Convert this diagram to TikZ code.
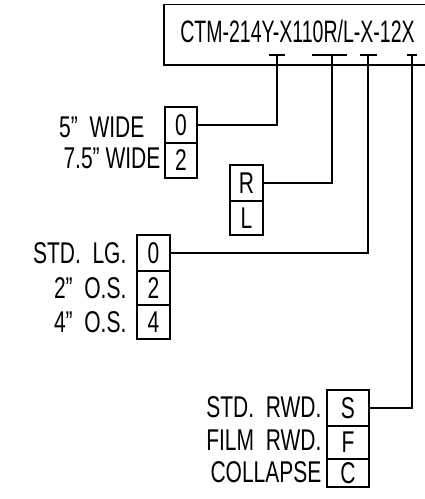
\documentclass[tikz,border=0pt]{standalone}
\usepackage{fontspec}
\setmainfont[FakeStretch=0.70]{Liberation Sans}
\newfontfamily\hdrfont[FakeStretch=0.63]{Liberation Sans}
\begin{document}
\begin{tikzpicture}[x=1pt,y=-1pt,
  line width=1.2pt,
  cell/.style={draw,inner sep=0pt,font=\fontsize{30}{30}\selectfont},
  lbl/.style={anchor=base east,inner sep=0pt,font=\fontsize{30}{30}\selectfont},
  hdr/.style={anchor=base,inner sep=0pt,font=\hdrfont\fontsize{31}{31}\selectfont},
  conn/.style={line width=1.2pt}]
\useasboundingbox (0,0) rectangle (425,499);
% header box
\coordinate (hb1) at (425,4.5);
\coordinate (hb2) at (164,4.5);
\coordinate (hb3) at (164,65);
\coordinate (hb4) at (425,65);
\draw (hb1) -- (hb2) -- (hb3) -- (hb4);
\node[hdr] (code) at (297.5,42) {CTM-214Y-X110R/L-X-12X};
% tick marks
\coordinate (t1) at (277,55); \coordinate (t1a) at (269,55); \coordinate (t1b) at (285,55);
\coordinate (t2) at (332,55); \coordinate (t2a) at (312,55); \coordinate (t2b) at (347,55);
\coordinate (t3) at (368,55); \coordinate (t3a) at (360,55); \coordinate (t3b) at (377,55);
\coordinate (t4) at (412,55); \coordinate (t4a) at (407,55); \coordinate (t4b) at (417,55);
\draw (t1a) -- (t1b); \draw (t2a) -- (t2b); \draw (t3a) -- (t3b); \draw (t4a) -- (t4b);
% width cells
\node[cell,minimum width=32,minimum height=36] (w0) at (181,125) {0};
\node[cell,minimum width=32,minimum height=35] (w2) at (181,160.5) {2};
\node[lbl] (lw0) at (145,137) {5”\ \ WIDE};
\node[lbl] (lw2) at (161,168) {7.5”\ WIDE};
% R/L cells
\node[cell,minimum width=33,minimum height=36] (hr) at (246.5,183) {R};
\node[cell,minimum width=33,minimum height=34] (hl) at (246.5,218) {L};
% leg cells
\node[cell,minimum width=33,minimum height=36] (g0) at (153.5,253) {0};
\node[cell,minimum width=33,minimum height=34] (g2) at (153.5,288) {2};
\node[cell,minimum width=33,minimum height=34] (g4) at (153.5,322) {4};
\node[lbl] (lg0) at (127,263) {STD.\ \ LG.};
\node[lbl] (lg2) at (127,298) {2”\ \ O.S.};
\node[lbl] (lg4) at (127,332) {4”\ \ O.S.};
% rewind cells
\node[cell,minimum width=42,minimum height=36] (rs) at (348,408) {S};
\node[cell,minimum width=42,minimum height=33] (rf) at (348,442.5) {F};
\node[cell,minimum width=42,minimum height=28] (rc) at (348,473) {C};
\node[lbl] (lrs) at (322,417) {STD.\ \ RWD.};
\node[lbl] (lrf) at (322,450) {FILM\ \ RWD.};
\node[lbl] (lrc) at (322,482) {COLLAPSE};
% connectors
\draw[conn] (w0.east) -| (t1);
\draw[conn] (hr.east) -| (t2);
\draw[conn] (g0.east) -| (t3);
\draw[conn] (rs.east) -| (t4);
\end{tikzpicture}
\end{document}
